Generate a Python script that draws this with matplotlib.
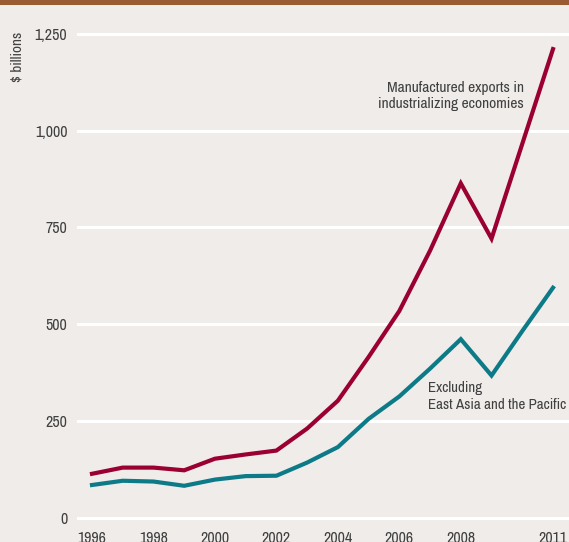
import numpy as np
import matplotlib
matplotlib.use("Agg")
import matplotlib.pyplot as plt
from matplotlib.patches import Rectangle

plt.rcParams['font.family'] = ['Archivo Narrow', 'Liberation Sans', 'DejaVu Sans']

#   Data ($ billions)
# =====================================================
years = [1996, 1997, 1998, 1999, 2000, 2001, 2002, 2003,
         2004, 2005, 2006, 2007, 2008, 2009, 2010, 2011]
manufactured = [113, 129, 129, 122, 152, 163, 173, 230,
                302, 415, 534, 690, 864, 721, 966, 1211]
excl_east_asia = [84, 95, 93, 82, 98, 107, 108, 142,
                  182, 255, 313, 385, 461, 367, 482, 594]

xtick_years = [1996, 1998, 2000, 2002, 2004, 2006, 2008, 2011]
ytick_vals = [0, 250, 500, 750, 1000, 1250]
ytick_labels = ['0', '250', '500', '750', '1,000', '1,250']

bg = '#f0ecea'
red = '#9b0033'
teal = '#0d7a88'
txt = '#404040'

W, H = 569, 542
fig = plt.figure(figsize=(W / 100, H / 100), dpi=100, facecolor=bg)

# brown band at the very top
fig.patches.append(Rectangle((0, 1 - 4.5 / H), 1, 4.5 / H, transform=fig.transFigure,
                             facecolor='#9a5a33', edgecolor='none'))

# axes placed in pixel terms
left_px, right_px = 77, 569
top_px, bot_px = 28, 524
ax = fig.add_axes([left_px / W, 1 - bot_px / H, (right_px - left_px) / W, (bot_px - top_px) / H])
ax.set_facecolor(bg)

px_per_year = (553 - 92) / 15.0
ax.set_xlim(1996 - (92 - left_px) / px_per_year, 2011 + (right_px - 553) / px_per_year)
px_per_unit = (517.5 - 34) / 1250.0
ax.set_ylim(-(bot_px - 517.5) / px_per_unit, 1250 + (34 - top_px) / px_per_unit)

for v in ytick_vals:
    ax.axhline(v, color='white', lw=2.2, zorder=1)

ax.plot(years, manufactured, color=red, lw=3.0, zorder=3, solid_joinstyle='miter')
ax.plot(years, excl_east_asia, color=teal, lw=3.0, zorder=3, solid_joinstyle='miter')

ax.set_xticks(xtick_years)
ax.set_xticklabels([str(y) for y in xtick_years])
ax.set_yticks(ytick_vals)
ax.set_yticklabels(ytick_labels)
ax.tick_params(axis='both', length=0, labelsize=11.5, colors=txt)
ax.tick_params(axis='y', pad=7)
ax.tick_params(axis='x', pad=5)
for s in ax.spines.values():
    s.set_visible(False)

fig.text(17 / W, 1 - 57 / H, '$ billions', rotation=90, ha='center', va='center',
         fontsize=11, color=txt)

# label for the upper line, right edge near x=524 px
ax.text(2010.05, 1090, 'Manufactured exports in\nindustrializing economies',
        ha='right', va='center', fontsize=11.2, color=txt, linespacing=1.2)
# label for the lower line, left edge near x=428 px
ax.text(2006.93, 313, 'Excluding\nEast Asia and the Pacific',
        ha='left', va='center', fontsize=10.8, color=txt, linespacing=1.25)

fig.savefig('out.png', dpi=100, facecolor=bg)
